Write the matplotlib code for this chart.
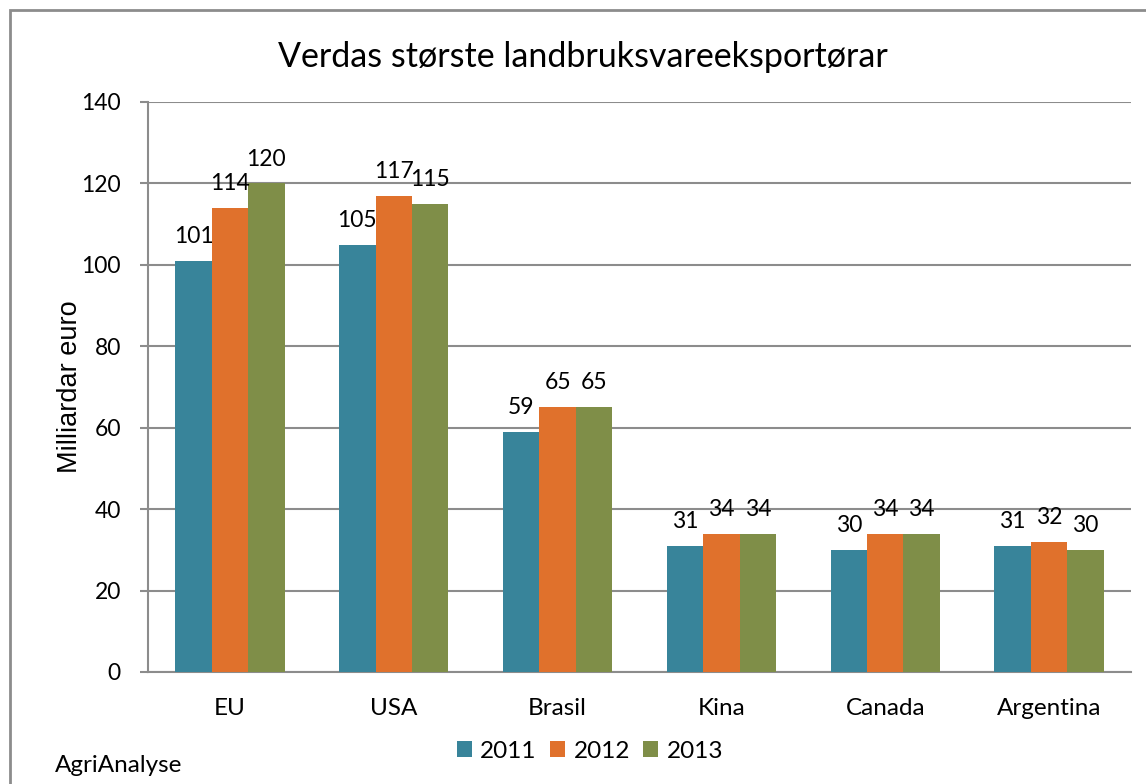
import matplotlib
matplotlib.use("Agg")
import matplotlib.pyplot as plt
from matplotlib.patches import Rectangle
import numpy as np

categories = ["EU", "USA", "Brasil", "Kina", "Canada", "Argentina"]
years = ["2011", "2012", "2013"]
v2011 = [101, 105, 59, 31, 30, 31]
v2012 = [114, 117, 65, 34, 34, 32]
v2013 = [120, 115, 65, 34, 34, 30]
colors = ["#38849A", "#E0712C", "#7F8E48"]

plt.rcParams['font.family'] = ['Lato', 'DejaVu Sans']

W, H = 1146, 784
fig = plt.figure(figsize=(W/100, H/100), dpi=100)
ax = fig.add_axes([148/W, 1-672/H, (1131-148)/W, (672-102)/H])

x = np.arange(len(categories))
bw = 1/4.5
series = [v2011, v2012, v2013]
for i, (vals, c, lab) in enumerate(zip(series, colors, years)):
    pos = x + (i-1)*bw
    ax.bar(pos, vals, width=bw, color=c, label=lab, zorder=3, edgecolor='none')
    for p, v in zip(pos, vals):
        ax.annotate(str(v), (p, v), xytext=(0, 10), textcoords='offset points',
                    ha='center', va='bottom', fontsize=16.5, color='black', zorder=4)

ax.set_xlim(-0.5, len(categories)-0.5)
ax.set_ylim(0, 140)
ax.set_yticks(range(0, 141, 20))
ax.yaxis.grid(True, color='#8c8c8c', linewidth=1.5, zorder=0)
ax.set_axisbelow(True)
for s in ['top', 'right']:
    ax.spines[s].set_visible(False)
for s in ['left', 'bottom']:
    ax.spines[s].set_color('#8c8c8c')
    ax.spines[s].set_linewidth(1.5)
ax.set_xticks(x)
ax.set_xticklabels(categories, fontsize=17.5)
ax.tick_params(axis='x', length=0, pad=19)
ax.tick_params(axis='y', length=6, width=1.5, color='#8c8c8c', labelsize=16.5, pad=13.5)
ax.set_ylabel("Milliardar euro", fontsize=19.5, labelpad=-1,
              fontfamily='Liberation Sans')

fig.text(583/W, 1-57/H, "Verdas største landbruksvareeksportørar", ha='center', va='center', fontsize=24.5)
fig.text(55/W, 1-765/H, "AgriAnalyse", ha='left', va='center', fontsize=17.5)

leg = fig.legend(loc='center', bbox_to_anchor=(590/W, 1-751/H), ncol=3, frameon=False,
                 fontsize=17.5, handlelength=0.62, handleheight=0.62, columnspacing=0.55, handletextpad=0.35)

fig.patches.append(Rectangle((10/W, -0.1), 1.2, 1-10/H+0.1, transform=fig.transFigure,
                             fill=False, edgecolor='#8c8c8c', linewidth=2))

fig.savefig("out.png", dpi=100)
